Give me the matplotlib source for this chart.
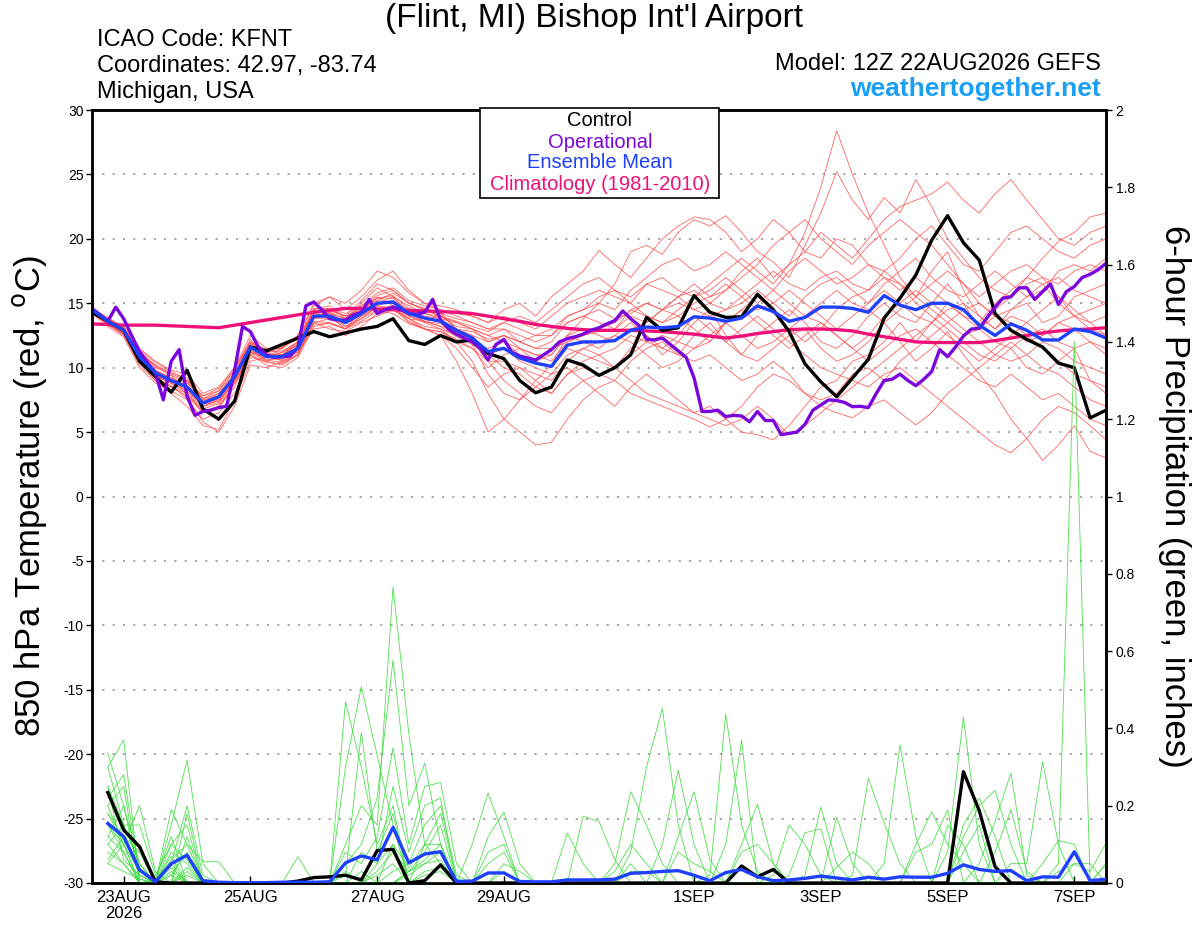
import numpy as np
import matplotlib
matplotlib.use("Agg")
import matplotlib.pyplot as plt
from matplotlib.patches import Rectangle

plt.rcParams['font.family'] = ['Liberation Sans', 'DejaVu Sans']
plt.rcParams['axes.unicode_minus'] = False

# forecast hours from 12Z 22AUG2026
hours = np.arange(0, 385, 6)
hours_op = np.arange(0, 385, 3)
hours_pcp = hours[1:]

tick_hours = [12, 60, 108, 156, 228, 276, 324, 372]
tick_labels = ['23AUG\n2026', '25AUG', '27AUG', '29AUG', '1SEP', '3SEP', '5SEP', '7SEP']

# 850 hPa temperature (C)
control_t = [14.3, 13.6, 12.9, 10.5, 9.3, 8.1, 9.8, 6.8, 6.0, 7.4, 11.6, 11.3, 11.8,
             12.3, 12.8, 12.4, 12.7, 13.0, 13.2, 13.8, 12.1, 11.8, 12.5, 12.0, 12.15, 11.1,
             10.7, 9.0, 8.05, 8.5, 10.6, 10.2, 9.4, 10.0, 11.0, 13.9, 12.9, 13.1, 15.6,
             14.3, 13.9, 13.95, 15.7, 14.5, 12.8, 10.3, 8.9, 7.75, 9.2, 10.65, 13.85, 15.4,
             17.2, 19.9, 21.8, 19.7, 18.35, 14.2, 12.9, 12.2, 11.6, 10.35, 10.0, 6.1, 6.7]

mean_t = [14.5, 13.6, 12.9, 10.85, 9.6, 9.0, 8.5, 7.25, 7.75, 9.3, 11.6, 10.85, 10.85,
          11.5, 14.0, 14.0, 13.5, 14.2, 15.0, 15.1, 14.2, 13.85, 13.6, 12.9, 12.3, 11.25,
          11.5, 10.75, 10.35, 10.1, 11.75, 12.0, 12.0, 12.1, 12.9, 13.15, 13.1, 13.2, 13.95,
          13.85, 13.6, 13.85, 14.8, 14.35, 13.6, 13.9, 14.7, 14.7, 14.6, 14.3, 15.6, 14.85,
          14.5, 15.0, 15.0, 14.5, 13.3, 12.5, 13.4, 12.9, 12.15, 12.15, 13.0, 12.8, 12.3]

clim_t = [13.4, 13.35, 13.3, 13.3, 13.3, 13.25, 13.2, 13.15, 13.1, 13.3, 13.5, 13.7, 13.9,
          14.1, 14.3, 14.45, 14.6, 14.6, 14.55, 14.5, 14.45, 14.4, 14.35, 14.3, 14.2, 14.0,
          13.8, 13.6, 13.35, 13.2, 13.05, 12.95, 12.9, 12.9, 12.9, 12.85, 12.8, 12.7, 12.6,
          12.45, 12.3, 12.45, 12.65, 12.8, 12.95, 13.0, 13.0, 12.95, 12.85, 12.6, 12.4, 12.2,
          12.0, 11.95, 11.95, 11.95, 11.95, 12.1, 12.3, 12.5, 12.7, 12.85, 12.95, 13.0, 13.1]

# operational run, 3-hourly
oper_t = [14.6, 14.1, 13.6, 14.7, 13.8, 12.5, 11.25, 10.4, 9.6, 7.5, 10.5, 11.4, 7.8,
          6.3, 6.6, 6.7, 6.9, 7.0, 9.8, 13.2, 12.8, 11.6, 11.0, 10.8, 10.85, 10.9,
          11.6, 14.8, 15.1, 14.5, 13.8, 13.7, 13.7, 14.1, 14.3, 15.3, 14.2, 14.5, 14.7,
          14.5, 14.2, 14.15, 14.3, 15.3, 13.7, 13.0, 12.6, 12.3, 12.0, 11.5, 10.6, 11.8,
          12.2, 11.2, 10.9, 10.75, 10.6, 11.0, 11.4, 12.0, 12.25, 12.4, 12.6, 12.9, 13.1,
          13.4, 13.65, 14.4, 13.8, 13.3, 12.2, 12.15, 12.3, 11.8, 11.3, 10.8, 9.2, 6.6,
          6.6, 6.7, 6.2, 6.3, 6.25, 5.8, 6.6, 5.9, 5.9, 4.8, 4.9, 5.0, 5.6,
          6.7, 7.1, 7.5, 7.45, 7.3, 6.97, 7.0, 6.9, 8.0, 9.0, 9.1, 9.5, 9.0,
          8.6, 9.1, 9.7, 11.4, 10.85, 11.6, 12.45, 13.0, 13.05, 13.9, 14.7, 15.4, 15.5,
          16.2, 16.2, 15.3, 15.9, 16.5, 14.9, 15.9, 16.3, 17.0, 17.25, 17.6, 18.1]

# ensemble members
members_t = [
    [14.3, 13.8, 13.0, 11.2, 10.2, 9.4, 8.0, 6.8, 7.2, 9.0, 11.0, 11.5, 11.0,
     12.0, 14.5, 14.8, 13.8, 15.0, 16.2, 15.5, 14.0, 13.5, 14.2, 13.0, 11.8, 9.5,
     8.0, 7.5, 9.0, 10.2, 12.5, 13.8, 15.0, 16.5, 19.0, 19.5, 18.8, 20.5, 21.5,
     21.0, 21.8, 20.5, 19.0, 18.2, 17.0, 19.5, 22.0, 25.2, 23.0, 21.5, 23.2, 22.0,
     24.6, 22.5, 20.0, 18.5, 17.0, 16.0, 15.5, 17.0, 18.5, 19.8, 20.5, 21.7, 22.0],
    [14.6, 13.5, 12.6, 10.5, 9.2, 8.5, 7.8, 6.5, 7.0, 8.5, 11.2, 10.5, 10.2,
     11.0, 13.8, 14.5, 14.0, 15.2, 16.5, 16.0, 15.0, 14.5, 14.0, 13.2, 13.0, 12.5,
     13.0, 12.0, 11.5, 12.0, 13.5, 14.0, 14.5, 13.8, 14.2, 15.0, 14.5, 15.5, 16.5,
     15.5, 16.0, 17.5, 18.5, 17.0, 18.0, 20.5, 24.0, 28.4, 25.0, 22.0, 19.5, 17.0,
     15.5, 17.5, 19.0, 16.0, 14.0, 13.0, 14.5, 15.0, 13.5, 14.0, 15.5, 16.0, 16.5],
    [14.2, 13.2, 12.4, 10.0, 8.8, 8.2, 7.5, 6.0, 6.5, 8.0, 10.8, 10.5, 11.0,
     11.8, 13.5, 13.0, 12.8, 13.5, 14.0, 14.5, 13.8, 13.0, 12.5, 11.5, 10.0, 8.5,
     9.5, 10.0, 9.0, 8.0, 9.5, 10.5, 11.0, 10.0, 11.5, 12.5, 11.0, 12.0, 13.5,
     14.5, 12.5, 11.0, 10.5, 11.5, 12.5, 13.0, 11.5, 10.5, 11.0, 12.0, 13.5, 12.0,
     10.5, 11.5, 12.8, 11.0, 9.5, 8.0, 6.0, 4.5, 2.8, 4.0, 5.5, 3.5, 3.0],
    [14.4, 13.6, 12.8, 10.8, 9.8, 9.2, 8.8, 7.5, 7.8, 9.5, 12.0, 11.2, 10.8,
     11.2, 13.8, 14.2, 13.2, 14.0, 14.8, 15.2, 14.5, 13.5, 13.0, 12.0, 10.5, 8.0,
     6.0, 5.0, 4.0, 4.2, 6.0, 7.5, 8.5, 9.0, 10.5, 11.5, 12.0, 11.0, 12.5,
     13.5, 12.0, 11.0, 12.5, 13.5, 14.5, 13.5, 12.0, 11.5, 12.5, 14.0, 15.0, 14.0,
     13.5, 15.0, 16.5, 15.0, 13.0, 12.0, 11.5, 10.0, 9.5, 10.5, 11.5, 9.0, 8.5],
    [14.5, 13.4, 12.5, 10.2, 9.0, 8.0, 7.0, 5.5, 5.2, 7.5, 10.5, 10.8, 11.5,
     12.5, 14.2, 14.0, 13.0, 14.5, 15.5, 14.8, 13.5, 13.0, 12.5, 10.5, 8.0, 5.0,
     6.0, 7.5, 8.5, 9.5, 10.0, 9.0, 8.0, 7.0, 8.5, 9.5, 8.5, 7.5, 6.5,
     7.0, 6.0, 5.0, 4.8, 4.4, 5.5, 7.0, 8.5, 9.0, 10.5, 11.0, 12.0, 13.5,
     12.0, 13.5, 15.0, 14.0, 13.0, 14.5, 15.5, 16.5, 17.0, 15.5, 14.0, 13.5, 12.5],
    [14.6, 13.8, 13.2, 11.5, 10.5, 9.8, 9.5, 8.0, 8.5, 10.0, 12.5, 11.5, 11.5,
     12.5, 15.0, 15.5, 14.5, 15.5, 16.8, 17.5, 16.0, 15.0, 14.8, 14.5, 14.0, 13.5,
     14.5, 15.0, 14.0, 15.5, 16.5, 17.5, 19.1, 18.0, 17.0, 18.5, 20.0, 21.0, 21.7,
     21.5, 20.5, 19.0, 20.0, 21.5, 20.5, 19.0, 18.5, 20.0, 19.5, 18.0, 17.5, 18.5,
     20.0, 21.0, 19.5, 18.0, 17.5, 19.0, 20.5, 21.0, 20.0, 19.0, 18.5, 19.5, 20.0],
    [14.3, 13.5, 12.8, 11.0, 9.5, 8.8, 8.2, 7.0, 7.6, 9.4, 11.8, 11.0, 10.5,
     11.0, 13.5, 13.8, 13.6, 14.2, 15.0, 15.5, 14.8, 14.2, 13.8, 13.5, 13.0, 12.5,
     12.0, 11.5, 11.0, 10.5, 12.0, 12.5, 12.8, 13.0, 14.0, 13.5, 14.5, 14.0, 13.0,
     12.0, 13.5, 14.5, 15.5, 14.5, 13.0, 12.0, 13.0, 14.5, 15.5, 16.0, 17.5, 16.5,
     15.0, 14.0, 13.0, 12.0, 11.0, 10.5, 11.5, 12.5, 11.5, 10.5, 9.5, 9.0, 8.0],
    [14.4, 13.7, 13.0, 11.0, 9.8, 9.0, 8.5, 7.2, 7.8, 9.2, 11.5, 10.8, 11.2,
     12.0, 14.2, 14.5, 14.0, 14.5, 15.2, 15.8, 15.0, 14.5, 14.0, 13.5, 13.0, 12.0,
     12.5, 12.0, 12.5, 13.0, 14.0, 14.5, 15.5, 16.0, 15.0, 16.5, 17.0, 16.0, 15.5,
     16.5, 17.5, 18.5, 17.5, 16.5, 18.0, 19.0, 20.5, 19.5, 18.5, 20.0, 21.5, 22.5,
     23.0, 23.5, 24.4, 23.0, 22.0, 23.5, 24.6, 23.0, 21.5, 20.0, 19.5, 20.5, 21.0],
    [14.5, 13.3, 12.6, 10.5, 9.0, 8.5, 8.0, 6.5, 6.8, 8.8, 11.0, 10.2, 10.0,
     10.8, 13.2, 13.5, 13.0, 13.8, 14.5, 14.8, 14.0, 14.5, 14.2, 13.0, 12.5, 11.0,
     10.0, 9.5, 8.5, 8.0, 9.5, 10.0, 9.5, 9.0, 8.0, 7.5, 7.0, 6.5, 6.0,
     5.4, 6.0, 7.0, 8.5, 9.5, 9.0, 8.0, 7.5, 8.0, 9.5, 10.0, 9.0, 10.5,
     11.5, 12.5, 13.5, 14.5, 15.0, 14.0, 13.5, 12.5, 13.0, 12.0, 11.5, 12.0, 11.0],
    [14.6, 13.9, 13.1, 11.2, 10.0, 9.5, 9.0, 7.8, 8.2, 9.8, 12.2, 11.0, 11.0,
     11.8, 14.5, 14.2, 13.8, 14.8, 15.8, 16.2, 15.2, 14.8, 14.5, 14.0, 13.5, 13.0,
     13.5, 13.0, 12.5, 12.5, 13.5, 14.0, 13.5, 13.0, 14.5, 15.0, 14.5, 15.5, 16.0,
     15.0, 14.5, 15.0, 16.0, 15.0, 14.0, 15.5, 16.5, 17.0, 16.0, 15.0, 16.0, 15.0,
     14.0, 13.5, 14.5, 15.0, 14.0, 13.0, 14.0, 13.5, 12.5, 13.5, 14.0, 14.5, 15.0],
    [14.2, 13.4, 12.6, 10.6, 9.4, 8.8, 8.2, 7.0, 7.5, 9.0, 11.4, 10.6, 10.4,
     11.0, 13.6, 13.5, 13.0, 14.0, 14.6, 14.8, 13.8, 13.2, 13.0, 12.5, 12.0, 11.5,
     12.0, 11.0, 10.5, 11.0, 12.5, 12.0, 11.5, 12.5, 13.5, 12.5, 11.5, 12.5, 14.0,
     13.0, 12.0, 13.0, 14.0, 13.0, 12.0, 11.0, 10.0, 9.5, 9.0, 8.5, 9.5, 10.0,
     9.0, 8.0, 7.0, 6.0, 5.0, 4.0, 3.4, 4.5, 6.0, 7.0, 6.5, 5.5, 4.4],
    [14.5, 13.6, 12.9, 11.0, 10.2, 9.6, 9.2, 7.6, 8.0, 9.6, 11.8, 11.2, 11.5,
     12.5, 14.8, 15.5, 15.0, 16.0, 17.5, 17.0, 15.8, 15.0, 14.5, 14.2, 14.0, 13.5,
     14.0, 13.5, 13.0, 14.0, 15.0, 15.5, 16.0, 15.5, 15.0, 14.0, 13.5, 14.5, 15.5,
     16.0, 17.0, 16.0, 15.0, 16.0, 17.5, 18.5, 17.5, 16.5, 17.0, 18.0, 17.0, 16.0,
     17.0, 16.0, 15.0, 14.0, 13.5, 15.0, 16.0, 17.0, 16.5, 15.0, 14.0, 13.0, 12.5],
    [14.4, 13.5, 12.7, 10.4, 9.2, 8.6, 7.6, 5.8, 5.0, 7.0, 10.2, 10.0, 10.5,
     11.2, 13.0, 13.2, 12.5, 13.2, 14.2, 14.5, 13.6, 13.0, 12.8, 12.0, 11.5, 10.5,
     10.5, 10.0, 9.5, 9.0, 10.5, 11.5, 12.0, 12.5, 12.0, 11.0, 10.0, 10.5, 11.5,
     12.0, 13.5, 14.5, 13.5, 12.5, 11.5, 12.5, 13.5, 12.5, 11.5, 12.5, 14.0, 15.0,
     16.0, 15.0, 14.0, 13.0, 12.0, 11.0, 10.5, 11.0, 12.0, 11.5, 10.5, 10.0, 9.5],
    [14.5, 13.6, 13.0, 11.0, 9.6, 9.0, 8.6, 7.4, 8.0, 9.4, 11.6, 11.0, 11.0,
     11.6, 14.0, 14.0, 13.5, 14.4, 15.4, 15.4, 14.4, 14.0, 13.8, 13.0, 12.5, 12.0,
     12.5, 11.5, 11.0, 11.0, 12.5, 13.0, 12.5, 12.0, 13.0, 13.5, 14.5, 15.0, 14.5,
     14.0, 14.5, 15.5, 16.5, 17.5, 16.5, 16.0, 17.0, 17.5, 16.5, 16.0, 17.0, 16.5,
     15.5, 16.5, 17.5, 16.5, 15.0, 14.0, 14.5, 15.5, 16.5, 17.0, 16.0, 15.5, 15.0],
    [14.3, 13.5, 12.8, 10.8, 9.6, 9.0, 8.4, 7.2, 7.6, 9.2, 11.5, 10.8, 10.6,
     11.4, 13.8, 13.8, 13.2, 13.8, 14.8, 14.6, 13.8, 13.6, 13.2, 12.4, 11.8, 11.0,
     11.5, 10.5, 10.0, 9.5, 11.0, 11.5, 11.0, 11.5, 12.5, 12.0, 11.5, 11.0, 10.5,
     11.0, 10.0, 9.0, 9.5, 10.5, 9.5, 8.0, 7.0, 6.5, 6.1, 7.0, 7.5, 6.5,
     5.55, 6.5, 8.0, 9.0, 10.0, 11.0, 12.0, 11.0, 10.0, 9.5, 8.5, 7.5, 7.0],
    [14.6, 13.7, 13.0, 11.4, 10.4, 9.7, 9.0, 7.8, 8.4, 10.0, 12.0, 11.4, 11.6,
     12.2, 14.6, 14.6, 14.2, 14.8, 15.6, 16.0, 15.0, 14.6, 14.2, 13.8, 13.5, 13.0,
     13.0, 12.5, 12.0, 12.5, 14.0, 14.5, 15.0, 14.5, 16.0, 17.0, 18.0, 18.5, 17.5,
     18.0, 19.0, 18.0, 17.0, 16.0, 15.0, 14.0, 15.0, 16.0, 15.0, 14.5, 13.5, 14.5,
     15.5, 14.5, 13.5, 12.5, 13.0, 14.0, 13.0, 12.0, 12.5, 13.5, 13.0, 12.0, 11.5],
    [14.4, 13.6, 12.9, 10.9, 9.8, 9.2, 8.6, 7.2, 7.4, 9.0, 11.2, 10.8, 11.2,
     11.8, 14.0, 14.2, 13.6, 14.2, 15.0, 15.0, 14.0, 13.6, 13.4, 12.8, 12.0, 10.5,
     9.0, 8.0, 7.0, 6.5, 8.0, 9.0, 9.5, 10.0, 9.0, 8.0, 7.5, 7.0, 6.5,
     6.0, 5.5, 6.0, 7.0, 6.0, 4.8, 5.5, 6.5, 7.5, 8.5, 9.5, 10.5, 11.5,
     12.5, 13.5, 12.5, 11.5, 10.5, 11.5, 12.5, 13.5, 14.5, 15.5, 14.5, 13.5, 14.0],
    [14.5, 13.7, 12.9, 10.7, 9.4, 8.9, 8.4, 7.0, 7.3, 9.1, 11.3, 10.6, 10.7,
     11.3, 14.0, 14.3, 13.8, 14.4, 15.2, 15.0, 14.2, 13.6, 13.2, 13.0, 12.8, 12.2,
     12.5, 12.0, 11.5, 11.5, 12.0, 12.5, 13.0, 13.5, 14.5, 14.0, 13.5, 14.0, 15.0,
     15.5, 16.5, 15.5, 14.5, 15.0, 16.0, 15.0, 14.0, 13.0, 14.0, 15.0, 16.5, 17.5,
     18.5, 17.0, 16.0, 15.5, 16.5, 17.5, 16.5, 15.5, 16.0, 17.5, 18.0, 17.5, 18.5],
    [14.3, 13.4, 12.7, 10.6, 9.3, 8.8, 8.0, 6.6, 7.0, 8.8, 11.0, 10.4, 10.3,
     11.0, 13.4, 13.4, 13.0, 13.6, 14.4, 14.2, 13.4, 13.0, 12.8, 12.2, 11.5, 10.0,
     11.0, 11.5, 10.5, 10.0, 11.5, 11.0, 10.5, 10.0, 11.0, 12.0, 12.5, 12.0, 11.5,
     12.5, 13.5, 12.5, 11.5, 12.0, 13.0, 14.0, 13.5, 12.5, 11.5, 10.5, 11.5, 12.5,
     13.0, 12.0, 11.0, 10.0, 9.0, 8.5, 9.5, 8.5, 7.5, 8.0, 7.0, 6.0, 5.5],
    [14.5, 13.8, 13.1, 11.3, 10.1, 9.4, 8.9, 7.6, 8.2, 9.8, 11.9, 11.2, 11.3,
     12.0, 14.4, 14.4, 14.0, 14.6, 15.4, 15.6, 14.6, 14.2, 14.0, 13.6, 13.2, 12.8,
     13.5, 14.0, 13.5, 14.5, 15.5, 16.5, 17.0, 16.0, 15.5, 16.5, 16.0, 15.5, 14.5,
     15.0, 16.0, 17.0, 18.0, 19.5, 20.5, 21.5, 20.0, 19.0, 18.0, 19.5, 20.5, 21.5,
     20.5, 19.5, 18.0, 16.5, 15.5, 16.5, 17.5, 18.0, 17.0, 16.5, 17.5, 18.0, 17.5],
]

# 6-hour precipitation (inches), steps 1..64
control_p = [0.234, 0.137, 0.094, 0.003, 0, 0, 0, 0, 0, 0, 0, 0, 0.005,
             0.014, 0.016, 0.02, 0.008, 0.084, 0.087, 0, 0.006, 0.047, 0, 0, 0, 0,
             0, 0, 0, 0, 0, 0, 0, 0, 0, 0, 0, 0, 0, 0, 0.044, 0.016, 0.035,
             0, 0, 0, 0, 0, 0, 0, 0, 0, 0, 0, 0.288, 0.187, 0.042, 0, 0, 0, 0, 0, 0, 0]

mean_p = [0.154, 0.12, 0.034, 0.003, 0.05, 0.072, 0.006, 0.002, 0.001, 0.001, 0.001, 0.002, 0.002,
          0.002, 0.003, 0.052, 0.07, 0.06, 0.144, 0.052, 0.075, 0.081, 0.004, 0.005, 0.026, 0.026,
          0.004, 0.003, 0.003, 0.008, 0.008, 0.008, 0.01, 0.025, 0.027, 0.03, 0.032, 0.02, 0.006,
          0.027, 0.035, 0.016, 0.006, 0.008, 0.012, 0.018, 0.013, 0.008, 0.015, 0.01, 0.016, 0.015,
          0.015, 0.025, 0.047, 0.035, 0.03, 0.032, 0.006, 0.016, 0.015, 0.081, 0.006, 0.01]

# member precip, {step: inches}, zero elsewhere
members_p = [
    {1: .336, 2: .20, 3: .05, 5: .19, 6: .10, 17: .08, 18: .05, 19: .25, 20: .08, 21: .20, 22: .22,
     36: .10, 37: .292, 38: .10, 54: .15, 55: .10},
    {1: .30, 2: .37, 5: .15, 6: .318, 7: .05, 18: .05, 19: .10, 26: .05, 27: .03, 41: .08, 42: .10,
     43: .05, 58: .05, 59: .05, 60: .314, 61: .10},
    {1: .25, 2: .15, 3: .15, 4: .02, 5: .10, 6: .15, 16: .03, 21: .03, 22: .04, 33: .05, 34: .236,
     35: .15, 36: .05, 55: .08, 56: .15},
    {1: .22, 2: .28, 3: .02, 5: .05, 6: .20, 7: .02, 18: .03, 19: .08, 20: .03, 21: .08, 22: .15,
     24: .10, 25: .233, 26: .12, 47: .17, 48: .05, 64: .05},
    {1: .20, 2: .10, 5: .08, 6: .05, 16: .469, 17: .30, 18: .10, 19: .20, 26: .03, 43: .02, 44: .15,
     45: .10, 46: .02, 61: .03, 62: .05, 63: .05},
    {1: .18, 2: .12, 3: .08, 5: .02, 6: .08, 13: .068, 21: .02, 22: .03, 37: .12, 38: .236, 39: .06,
     54: .08, 55: .429, 56: .10},
    {1: .15, 2: .08, 4: .01, 5: .12, 16: .08, 17: .05, 18: .12, 19: .35, 20: .10, 21: .25, 22: .26,
     23: .05, 40: .10, 41: .37, 61: .05, 62: 1.40},
    {1: .12, 2: .20, 3: .01, 6: .12, 19: .03, 20: .05, 21: .15, 22: .20, 23: .02, 30: .129, 31: .05,
     52: .08, 53: .10, 54: .189},
    {1: .10, 2: .15, 3: .05, 5: .04, 16: .30, 17: .508, 18: .33, 19: .15, 33: .03, 34: .10, 35: .05,
     55: .15, 56: .22, 57: .12},
    {1: .08, 2: .05, 5: .06, 6: .10, 7: .055, 8: .055, 20: .03, 21: .05, 22: .06, 34: .08, 35: .30,
     36: .452, 37: .15, 60: .05, 61: .11, 62: .10},
    {1: .05, 2: .10, 3: .20, 4: .03, 6: .03, 17: .03, 25: .12, 26: .184, 27: .05, 47: .04, 48: .08,
     49: .05},
    {1: .20, 2: .25, 5: .10, 6: .06, 19: .10, 20: .04, 21: .10, 22: .18, 23: .01, 34: .05, 50: .05,
     51: .357, 52: .12},
    {1: .25, 2: .06, 3: .02, 5: .03, 16: .10, 17: .20, 18: .15, 19: .766, 20: .385, 21: .10, 22: .05,
     44: .02, 45: .13, 46: .14, 64: .05},
    {1: .15, 2: .10, 3: .03, 6: .18, 25: .08, 26: .10, 37: .08, 38: .05, 39: .03, 55: .12, 56: .20,
     57: .24, 58: .10},
    {1: .10, 2: .05, 5: .07, 16: .05, 17: .10, 18: .22, 19: .577, 20: .20, 21: .31, 22: .10, 48: .02,
     49: .271, 50: .155, 51: .05},
    {1: .05, 2: .03, 3: .01, 6: .02, 20: .02, 21: .05, 22: .08, 31: .173, 32: .159, 33: .06, 56: .05,
     57: .16, 58: .285, 59: .02},
    {1: .30, 2: .15, 3: .05, 5: .05, 21: .10, 22: .10, 34: .03, 35: .03, 52: .10, 53: .184, 54: .10,
     55: .05},
    {1: .18, 2: .10, 6: .04, 16: .02, 17: .39, 18: .08, 19: .18, 39: .02, 40: .437, 41: .15, 42: .03},
    {1: .12, 2: .08, 5: .02, 20: .03, 21: .06, 22: .10, 45: .02, 46: .197, 47: .05, 62: .05, 63: .03,
     64: .103},
    {1: .06, 2: .12, 3: .02, 18: .02, 19: .05, 25: .05, 26: .08, 41: .10, 42: .204, 43: .05, 57: .08,
     58: .19, 59: .03},
]

c_member_t = '#ff4a4a'
c_member_p = '#3ddc3d'
c_oper = '#7a06dc'
c_mean = '#2040ff'
c_clim = '#f0107a'

fig = plt.figure(figsize=(12, 9.27), dpi=100)
ax = fig.add_axes([92 / 1200, 1 - 883 / 927, 1014 / 1200, 773 / 927])
ax2 = ax.twinx()

for m in members_t:
    ax.plot(hours, m, color=c_member_t, lw=0.6, alpha=0.85, zorder=2)

for d in members_p:
    p = np.zeros(len(hours_pcp))
    for k, v in d.items():
        p[k - 1] = v
    ax2.plot(hours_pcp, p, color=c_member_p, lw=0.6, alpha=0.9, zorder=2)

ax.plot(hours, clim_t, color=c_clim, lw=2.4, zorder=4)
ax.plot(hours, control_t, color='black', lw=2.4, zorder=5)
ax.plot(hours_op, oper_t, color=c_oper, lw=2.4, zorder=6)
ax.plot(hours, mean_t, color=c_mean, lw=2.4, zorder=7)

ax2.plot(hours_pcp, control_p, color='black', lw=2.4, zorder=5)
ax2.plot(hours_pcp, mean_p, color=c_mean, lw=2.4, zorder=6)

ax.set_xlim(0, 384)
ax.set_ylim(-30, 30)
ax2.set_ylim(0, 2)
ax.set_yticks(np.arange(-30, 31, 5))
ax2.set_yticks(np.arange(0, 2.01, 0.2))
ax2.set_yticklabels(['%g' % v for v in np.round(np.arange(0, 2.01, 0.2), 1)])
ax.set_xticks(tick_hours)
ax.set_xticklabels(tick_labels, fontsize=12, linespacing=1.05)

ax.yaxis.grid(True, linestyle=(0, (1.2, 4.5)), color='#a0a0a0', lw=1.3)
ax.set_axisbelow(True)

for a in (ax, ax2):
    for s in a.spines.values():
        s.set_linewidth(1.8)
ax.tick_params(axis='y', labelsize=10, length=4, width=1, pad=2)
ax2.tick_params(axis='y', labelsize=10, length=4, width=1, pad=3)
ax.tick_params(axis='x', direction='in', length=5, width=1, pad=5)

fig.text(594 / 1200, 1 - 18 / 927, "(Flint, MI) Bishop Int'l Airport", ha='center', va='center',
         fontsize=24)
fig.text(97 / 1200, 1 - 40 / 927, 'ICAO Code: KFNT', ha='left', va='center', fontsize=17)
fig.text(97 / 1200, 1 - 66 / 927, 'Coordinates: 42.97, -83.74', ha='left', va='center', fontsize=17)
fig.text(97 / 1200, 1 - 92 / 927, 'Michigan, USA', ha='left', va='center', fontsize=17)
fig.text(1101 / 1200, 1 - 64 / 927, 'Model: 12Z 22AUG2026 GEFS', ha='right', va='center', fontsize=17)
fig.text(1101 / 1200, 1 - 89 / 927, 'weathertogether.net', ha='right', va='center', fontsize=19,
         fontweight='bold', color='#1a9ff5')

fig.text(30 / 1200, 1 - 496 / 927, '850 hPa Temperature (red, $^{\\mathrm{o}}$C)', rotation=90,
         ha='center', va='center', fontsize=25)
fig.text(1174 / 1200, 1 - 496 / 927, '6-hour Precipitation (green, inches)', rotation=270,
         ha='center', va='center', fontsize=25)

# legend box
fig.patches.append(Rectangle((480 / 1200, 1 - 198 / 927), 239 / 1200, 90 / 927,
                             transform=fig.transFigure, facecolor='white', edgecolor='black',
                             lw=1.2, zorder=10))
leg_items = [('Control', 'black', 121), ('Operational', c_oper, 142),
             ('Ensemble Mean', c_mean, 163), ('Climatology (1981-2010)', c_clim, 185)]
for txt, col, ypix in leg_items:
    fig.text(600 / 1200, 1 - ypix / 927, txt, color=col, ha='center', va='center', fontsize=14.5,
             zorder=11)

fig.savefig('out.png', dpi=100)
